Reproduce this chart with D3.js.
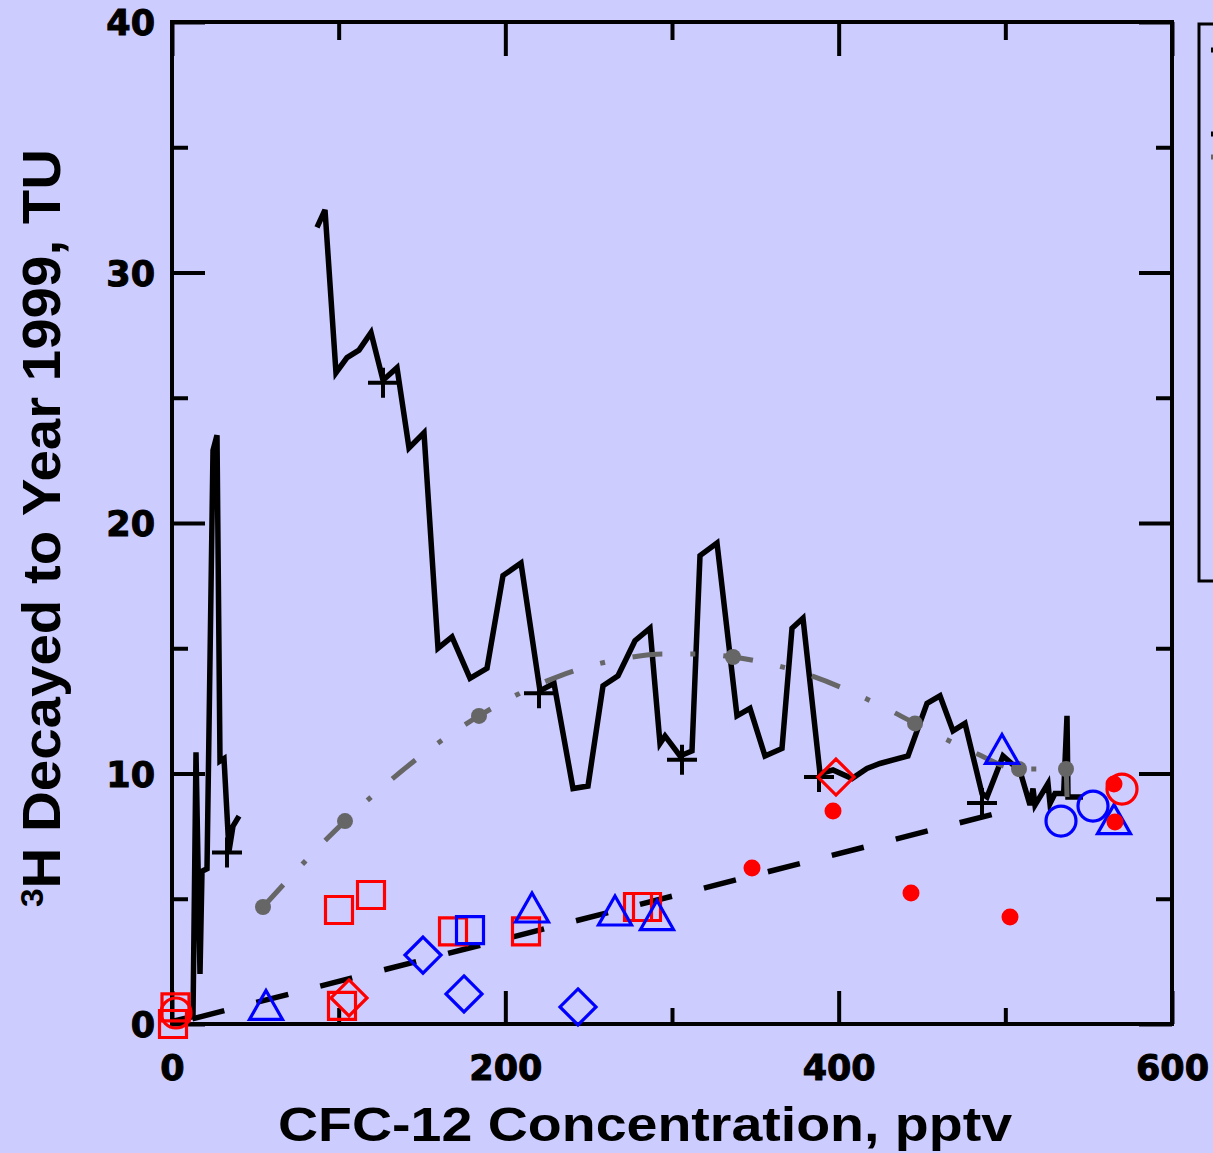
<!DOCTYPE html>
<meta charset="utf-8">
<style>
body { margin: 0; background: #ccccff; }
svg { display: block; background: #ccccff; }
.tick text { font: bold 35px "DejaVu Sans", sans-serif; fill: #000; stroke: #000; stroke-width: 1; }
.tick line { stroke: #000; stroke-width: 4; }
</style>
<svg width="1213" height="1153"></svg>
<script src="https://d3js.org/d3.v7.min.js"></script>
<script>

// tritium input curve (decayed), two pieces, [cfc12 pptv, TU]
var inputEarly = [[0,0.1],[12.6,0.3],[14.4,10.85],[16.8,2.0],[18,6.1],[21,6.2],[24.6,22.9],[27,23.5],
  [28.8,10.5],[31.2,10.6],[34.2,6.9],[36.6,7.9],[40.2,8.3]];
var inputLate = [[87,31.8],[91.8,32.5],[98.4,26.0],[105,26.6],[112.2,26.9],[119.4,27.6],[126.6,25.7],
  [135,26.2],[142.2,23.0],[151.2,23.6],[159.6,15.0],[168,15.45],[178.8,13.8],[189,14.2],[198.6,17.9],
  [209.4,18.4],[220.8,13.3],[229.2,13.6],[240.6,9.4],[249.6,9.5],[258.6,13.5],[267.6,13.9],[277.8,15.3],
  [286.8,15.8],[292.8,11.2],[295.8,11.5],[304.8,10.7],[312,10.9],[316.8,18.7],[327,19.2],[339,12.3],
  [346.8,12.6],[355.8,10.7],[366,11.0],[372,15.8],[378.6,16.2],[388.8,10.0],[396.6,10.14],[408,9.8],
  [417,10.2],[424.8,10.4],[441.6,10.7],[453,12.8],[460.8,13.1],[468.6,11.7],[475.8,12.0],[486,9.2],
  [489,9.06],[498.6,10.7],[508.8,10.1],[514.8,8.74],[516.6,9.4],[517.8,8.74],[525.6,9.6],[526.8,8.8],
  [529.8,9.2],[535,9.2],[537,12.3],[537.6,9.06],[546.6,9.06]];
// cross markers on the input curve
var inputCrosses = [[33,6.85],[126.6,25.6],[220.2,13.2],[306,10.55],[388.2,9.86],[486,8.82]];

// gray dash-dot curve and its dots
var grayCurve = [[54.6,4.67],[103.8,8.1],[184.2,12.3],[232.8,13.9],[271.8,14.6],[294.6,14.77],
  [314.4,14.77],[336.6,14.65],[376.8,14.05],[425.4,12.7],[445.8,12.0],[480.6,10.86],[508.2,10.18],
  [536.4,10.18],[537,9.06]];
var grayDots = [[54.6,4.67],[103.8,8.1],[184.2,12.3],[336.6,14.65],[445.8,12.0],[508.2,10.18],[536.4,10.18]];

// black dashed line
var dashedLine = [[0,0],[497,8.45]];

// samples
var redSquares = [[0.6,0.0],[2.1,0.66],[100.2,4.55],[119.4,5.15],[102,0.72],[168.6,3.7],[212.4,3.7],[279.6,4.67],[285,4.67]];
var blueSquares = [[178.8,3.75]];
var blueTriangles = [[56.4,0.76],[216,4.65],[265.8,4.53],[291,4.35],[498,10.98],[565.2,8.18]];
var blueDiamonds = [[150.6,2.75],[175.2,1.2],[243.6,0.68]];
var redDiamonds = [[106.2,1.04],[398.4,9.86]];
var blueCircles = [[533.4,8.1],[552.6,8.7]];
var redCircles = [[2.4,0.44],[570,9.38]];
var redDots = [[565.2,9.58],[565.8,8.06],[396.6,8.5],[348,6.23],[443.4,5.23],[502.8,4.27]];

var xMajor = [0, 200, 400, 600], xMinor = [100, 300, 500];
var yMajor = [0, 10, 20, 30, 40], yMinor = [5, 15, 25, 35];

var svg = d3.select("svg");
var x = d3.scaleLinear().domain([0, 600]).range([172, 1172]);
var y = d3.scaleLinear().domain([0, 40]).range([1024, 22]);

// inward ticks on all four sides
function ax(gen, vals, size, labels, tx) {
  var g = svg.append("g").attr("transform", tx)
    .call(gen.tickValues(vals).tickSize(-size).tickPadding(labels ? 31 : 0)
      .tickFormat(labels ? d3.format("d") : ""));
  g.select(".domain").remove();
  return g;
}
ax(d3.axisBottom(x), xMajor, 33, true, "translate(0,1024)");
ax(d3.axisBottom(x), xMinor, 16, false, "translate(0,1024)");
ax(d3.axisTop(x), xMajor, 34, false, "translate(0,22)");
ax(d3.axisTop(x), xMinor, 18, false, "translate(0,22)");
ax(d3.axisLeft(y), yMajor, 33, true, "translate(172,0)").selectAll("text").attr("x", -17).attr("dy", "0.36em");
ax(d3.axisLeft(y), yMinor, 16, false, "translate(172,0)");
ax(d3.axisRight(y), yMajor, 33, false, "translate(1172,0)");
ax(d3.axisRight(y), yMinor, 16, false, "translate(1172,0)");

svg.append("rect").attr("x", 172).attr("y", 22).attr("width", 1000).attr("height", 1002)
  .attr("fill", "none").attr("stroke", "#000").attr("stroke-width", 4);

var line = d3.line().x(d => x(d[0])).y(d => y(d[1]));

// black dashed
svg.append("path").attr("d", line(dashedLine)).attr("fill", "none")
  .attr("stroke", "#000").attr("stroke-width", 5.5)
  .attr("stroke-dasharray", "33,33").attr("stroke-dashoffset", 45);

// input curve
[inputEarly, inputLate].forEach(function(s) {
  svg.append("path").attr("d", line(s)).attr("fill", "none")
    .attr("stroke", "#000").attr("stroke-width", 5.5).attr("stroke-linejoin", "miter");
});
svg.selectAll(".cross").data(inputCrosses).enter().append("path")
  .attr("d", d => "M" + (x(d[0]) - 15) + "," + y(d[1]) + "h30M" + x(d[0]) + "," + (y(d[1]) - 15) + "v30")
  .attr("stroke", "#000").attr("stroke-width", 4);

// gray dash dot
svg.append("path").attr("d", d3.line().x(d => x(d[0])).y(d => y(d[1])).curve(d3.curveMonotoneX)(grayCurve))
  .attr("fill", "none").attr("stroke", "#666").attr("stroke-width", 5)
  .attr("stroke-dasharray", "30,28,5,28");
svg.selectAll(".gdot").data(grayDots).enter().append("circle")
  .attr("cx", d => x(d[0])).attr("cy", d => y(d[1])).attr("r", 8).attr("fill", "#666");

// markers
function marks(data, shape, color) {
  svg.append("g").selectAll("path").data(data).enter().append("path")
    .attr("transform", d => "translate(" + x(d[0]) + "," + y(d[1]) + ")")
    .attr("d", shape)
    .attr("fill", "none").attr("stroke", color).attr("stroke-width", 3.2);
}
var sq = "M-13.5,-13.5h27v27h-27z";
var tri = "M0,-14.5L16.5,14.5L-16.5,14.5z";
var dia = "M0,-18L18,0L0,18L-18,0z";
var circ = "M15,0A15,15 0 1,1 -15,0A15,15 0 1,1 15,0z";
marks(redSquares, sq, "#ff0000");
marks(blueSquares, sq, "#0000ff");
marks(blueTriangles, tri, "#0000ff");
marks(blueDiamonds, dia, "#0000ff");
marks(redDiamonds, dia, "#ff0000");
marks(blueCircles, circ, "#0000ff");
marks(redCircles, circ, "#ff0000");
svg.append("g").selectAll("circle").data(redDots).enter().append("circle")
  .attr("cx", d => x(d[0])).attr("cy", d => y(d[1])).attr("r", 8.5).attr("fill", "#ff0000");

// titles
svg.append("text").attr("x", 645).attr("y", 1141).attr("text-anchor", "middle")
  .attr("textLength", 734).attr("lengthAdjust", "spacingAndGlyphs")
  .style("font", "bold 48px 'Liberation Sans', Arial, sans-serif")
  .text("CFC-12 Concentration, pptv");

var yt = svg.append("text").attr("transform", "translate(60,528) rotate(-90)")
  .attr("text-anchor", "middle")
  .attr("textLength", 758).attr("lengthAdjust", "spacingAndGlyphs")
  .style("font", "bold 54px 'Liberation Sans Narrow', 'Liberation Sans', sans-serif");
yt.append("tspan").attr("font-size", 32).attr("dy", -17).text("3");
yt.append("tspan").attr("dy", 17).text("H Decayed to Year 1999, TU");

// legend box, mostly off the right edge
svg.append("rect").attr("x", 1199).attr("y", 24).attr("width", 40).attr("height", 557)
  .attr("fill", "none").attr("stroke", "#000").attr("stroke-width", 3);
var legendKeys = [[50, "#000"], [134, "#000"], [157, "#666"]];
legendKeys.forEach(function(k) {
  svg.append("line").attr("x1", 1211).attr("x2", 1220).attr("y1", k[0]).attr("y2", k[0])
    .attr("stroke", k[1]).attr("stroke-width", 5);
});

</script>
